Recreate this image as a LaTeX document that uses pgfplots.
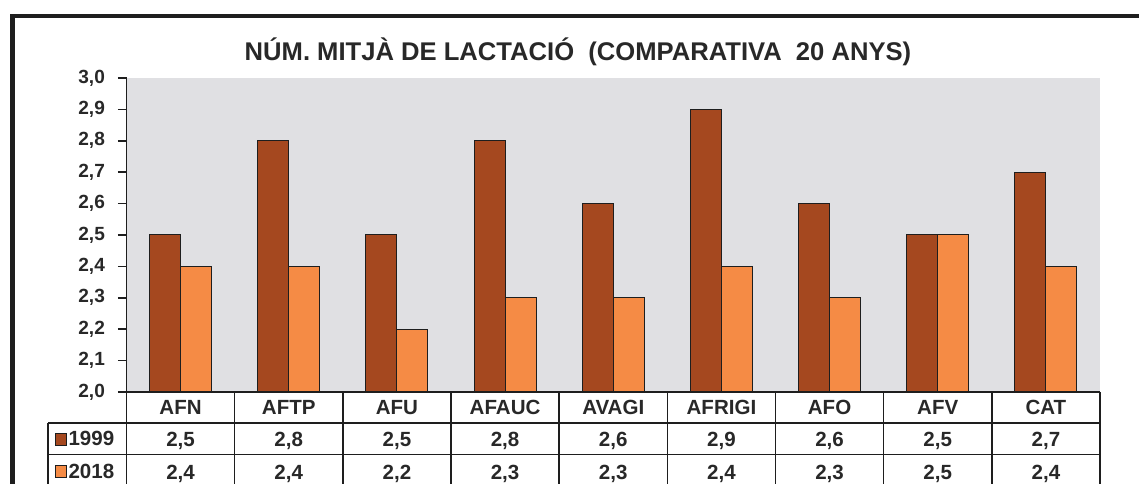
\documentclass[border=0pt]{standalone}
\usepackage{fontspec}
\setmainfont{Liberation Sans}
\usepackage{pgfplots}
\usepackage{pgfplotstable}
\pgfplotsset{compat=1.18}
\definecolor{cA}{RGB}{165,72,31}
\definecolor{cB}{RGB}{245,139,69}
\definecolor{bg}{RGB}{224,224,227}
\definecolor{tx}{RGB}{40,40,40}
\definecolor{ln}{RGB}{30,30,30}

\pgfplotstableread{
x cat a b
0 AFN 2.5 2.4
1 AFTP 2.8 2.4
2 AFU 2.5 2.2
3 AFAUC 2.8 2.3
4 AVAGI 2.6 2.3
5 AFRIGI 2.9 2.4
6 AFO 2.6 2.3
7 AFV 2.5 2.5
8 CAT 2.7 2.4
}\data

\begin{document}
\begin{tikzpicture}
\path[use as bounding box] (0,0) rectangle (854.25pt,363pt);
\clip (0,0) rectangle (854.25pt,363pt);
\pgfplotsset{base/.style={scale only axis, at={(94.875pt,69pt)}, anchor=south west,
  width=730.125pt, height=235.5pt, xmin=-0.5, xmax=8.5, ymin=2, ymax=3,
  /pgf/number format/.cd, fixed, fixed zerofill, precision=1, use comma, assume math mode=true}}
\begin{axis}[base,
  axis x line=none, axis y line=left,
  axis line style={-, draw=ln, line width=1.1pt},
  axis background/.style={fill=bg},
  xtick=\empty,
  ytick={2,2.1,2.2,2.3,2.4,2.5,2.6,2.7,2.8,2.9,3},
  tick align=outside, major tick length=6.5pt,
  tick style={draw=ln, line width=1.1pt},
  yticklabel style={font=\fontsize{14.3}{14.3}\selectfont\bfseries, text=tx, inner sep=0pt, xshift=-9.5pt},
]
\addplot[ybar, bar width=0.2866, bar shift=-0.1433, fill=cA, draw=ln, line width=0.75pt] table[x=x, y=a] {\data};
\addplot[ybar, bar width=0.2866, bar shift=0.1433, fill=cB, draw=ln, line width=0.75pt] table[x=x, y=b] {\data};
\end{axis}
\begin{axis}[base, hide axis, clip=false,
  nodes near coords style={font=\fontsize{15.4}{15.4}\selectfont\bfseries, text=tx, anchor=base, inner sep=0pt, yshift=0pt},
]
\addplot[draw=none, mark=none, nodes near coords, point meta=explicit symbolic] table[x=x, y expr=1.929, meta=cat] {\data};
\addplot[draw=none, mark=none, nodes near coords, point meta=\thisrow{a}] table[x=x, y expr=1.828] {\data};
\addplot[draw=none, mark=none, nodes near coords, point meta=\thisrow{b}] table[x=x, y expr=1.7229] {\data};
\end{axis}
% table grid
\begin{scope}[draw=ln, line width=1.2pt]
\draw (94.875pt,69pt) -- (825pt,69pt);
\draw (36pt,45.75pt) -- (825pt,45.75pt);
\draw (36pt,22pt) -- (825pt,22pt);
\foreach \k in {0,...,9} {
  \pgfmathsetmacro{\xx}{94.875+81.125*\k}
  \draw (\xx pt,69pt) -- (\xx pt,-3pt);
}
\draw (36pt,45.75pt) -- (36pt,-3pt);
\end{scope}
\draw[fill=cA, draw=ln, line width=0.7pt] (41.25pt,29.25pt) rectangle (50pt,38.25pt);
\draw[fill=cB, draw=ln, line width=0.7pt] (41.25pt,5.25pt) rectangle (50pt,14.25pt);
\node[anchor=base west, inner sep=0pt, text=tx, font=\fontsize{15.4}{15.4}\selectfont\bfseries] at (51.2pt,28.6pt) {1999};
\node[anchor=base west, inner sep=0pt, text=tx, font=\fontsize{15.4}{15.4}\selectfont\bfseries] at (51.2pt,4pt) {2018};
% title
\node[anchor=base, inner sep=0pt, text=tx, font=\fontsize{19.2}{19.2}\selectfont\bfseries] at (433.5pt,317.25pt) {NÚM. MITJÀ DE LACTACIÓ\ \ (COMPARATIVA\ \ 20 ANYS)};
% frame
\draw[draw=ln, line width=3.2pt, line join=miter] (9.4pt,-5pt) -- (9.4pt,351.15pt) -- (870pt,351.15pt);
\end{tikzpicture}
\end{document}
